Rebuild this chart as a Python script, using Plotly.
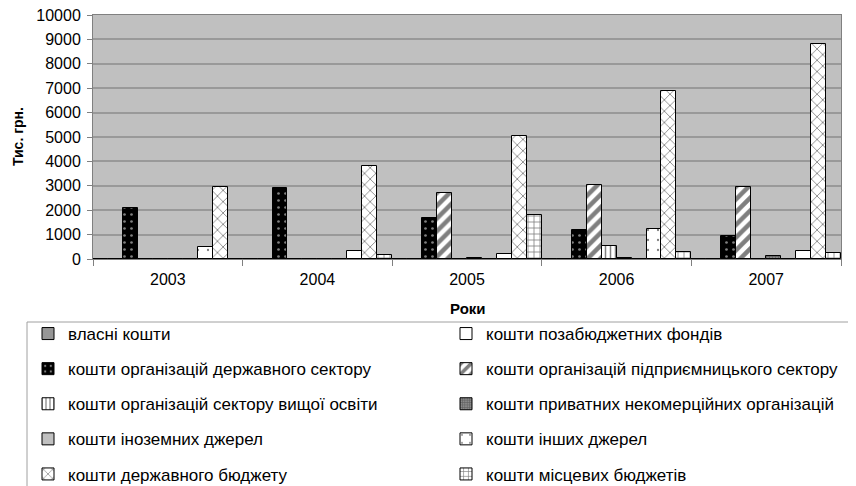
import plotly.graph_objects as go

# роки
years = ['2003', '2004', '2005', '2006', '2007']

# джерела фінансування (тис. грн.)
vlasni = [0, 0, 0, 0, 0]
pozabiudzhetni = [0, 0, 0, 0, 0]
derzh_sektor = [2100, 2900, 1690, 1200, 950]
pidpryiemnytskyi = [0, 0, 2700, 3050, 2950]
vyshcha_osvita = [0, 0, 0, 530, 0]
pryvatni_nekomertsiini = [0, 0, 50, 40, 130]
inozemni = [0, 0, 0, 0, 0]
inshi = [500, 310, 200, 1230, 310]
derzh_biudzhet = [2950, 3830, 5040, 6890, 8800]
mistsevi_biudzhety = [0, 160, 1800, 300, 230]

FONT = 'Liberation Sans, Arial, sans-serif'

# (назва, дані, колір, візерунок, колонка легенди)
series = [
    ('власні кошти', vlasni, '#969696', dict(shape=''), 'legend'),
    ('кошти позабюджетних фондів', pozabiudzhetni, 'white', dict(shape=''), 'legend2'),
    ('кошти організацій державного сектору', derzh_sektor, 'black',
     dict(shape='.', fgcolor='white', size=7, solidity=0.12), 'legend'),
    ('кошти організацій підприємницького сектору', pidpryiemnytskyi, 'white',
     dict(shape='/', fgcolor='black', size=9, solidity=0.5), 'legend2'),
    ('кошти організацій сектору вищої освіти', vyshcha_osvita, 'white',
     dict(shape='|', fgcolor='black', size=5, solidity=0.3), 'legend'),
    ('кошти приватних некомерційних організацій', pryvatni_nekomertsiini, '#8a8a8a',
     dict(shape='+', fgcolor='#333333', size=3, solidity=0.4), 'legend2'),
    ('кошти іноземних джерел', inozemni, '#c0c0c0', dict(shape=''), 'legend'),
    ('кошти інших джерел', inshi, 'white',
     dict(shape='.', fgcolor='black', size=10, solidity=0.04), 'legend2'),
    ('кошти державного бюджету', derzh_biudzhet, 'white',
     dict(shape='x', fgcolor='black', size=8, solidity=0.2), 'legend'),
    ('кошти місцевих бюджетів', mistsevi_biudzhety, 'white',
     dict(shape='+', fgcolor='black', size=6, solidity=0.25), 'legend2'),
]

fig = go.Figure()

for i, (name, vals, color, pattern, leg) in enumerate(series):
    fig.add_trace(go.Bar(
        x=years,
        y=vals,
        name=name,
        marker=dict(color=color, line=dict(color='black', width=1), pattern=pattern),
        legend=leg,
        legendgroup=f'g{i}',
    ))

# сторінка має відступ 8px, тому фігура трохи менша
W, H = 848, 478

legend_common = dict(
    orientation='v',
    xref='container', yref='container',
    yanchor='top',
    y=1 - 308 / H,
    font=dict(family=FONT, size=17, color='black'),
    bgcolor='rgba(0,0,0,0)',
    borderwidth=0,
    tracegroupgap=10,
    itemwidth=30,
    maxheight=400,
)

fig.update_layout(
    width=W, height=H,
    margin=dict(l=85, r=15, t=7, b=227, autoexpand=False),
    paper_bgcolor='white',
    plot_bgcolor='#c0c0c0',
    barmode='group',
    bargap=0,
    bargroupgap=0,
    font=dict(family=FONT, size=16, color='black'),
    legend=dict(legend_common, x=20 / W, xanchor='left'),
    legend2=dict(legend_common, x=438 / W, xanchor='left'),
    showlegend=True,
    # рамка легенди
    shapes=[dict(type='rect', xref='paper', yref='paper',
                 x0=(27 - 93) / 748, x1=(853 - 93) / 748,
                 y0=(259 - 500) / 244, y1=(259 - 322) / 244,
                 line=dict(color='#a0a0a0', width=1), fillcolor='rgba(0,0,0,0)',
                 layer='below')],
    # підписи осей
    annotations=[
        dict(text='<b>Тис. грн.</b>', xref='paper', yref='paper',
             x=(18 - 93) / 748, y=0.5, xanchor='center', yanchor='middle',
             textangle=-90, showarrow=False, font=dict(size=14)),
        dict(text='<b>Роки</b>', xref='paper', yref='paper',
             x=(468 - 93) / 748, y=(259 - 308) / 244, xanchor='center', yanchor='middle',
             showarrow=False, font=dict(size=15)),
    ],
)

fig.update_xaxes(
    type='category',
    showline=True, linecolor='#808080', linewidth=1, mirror=True,
    ticks='outside', tickson='boundaries', ticklen=6, tickcolor='#808080',
    tickfont=dict(size=16), ticklabelstandoff=6,
)

fig.update_yaxes(
    range=[0, 10000], dtick=1000, tickformat='d',
    showline=True, linecolor='#808080', linewidth=1, mirror=True,
    ticks='outside', ticklen=5, tickcolor='#808080',
    showgrid=True, gridcolor='#999999', gridwidth=1.5,
    zeroline=False, ticklabeloverflow='allow',
    tickfont=dict(size=16), ticklabelstandoff=3,
)

fig.write_html("out.html")
